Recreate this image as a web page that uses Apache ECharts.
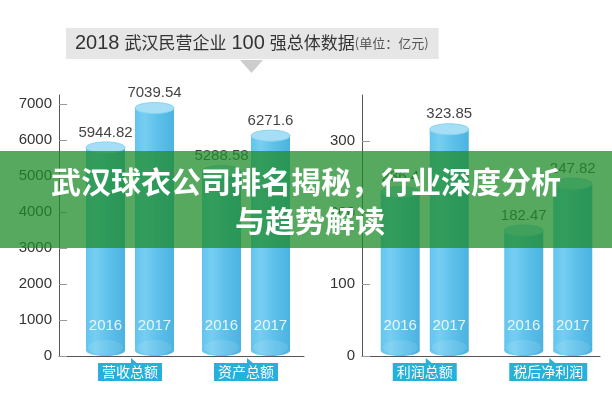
<!DOCTYPE html>
<html>
<head>
<meta charset="utf-8">
<script src="https://cdn.jsdelivr.net/npm/echarts@6/dist/echarts.min.js"></script>
<style>html,body{margin:0;padding:0;background:#fff;}#c{width:612px;height:400px;}</style>
</head>
<body>
<div id="c"></div>
<script>
// ---- data ----
const titleMain = ['2018', '武汉民营企业', '100', '强总体数据'];
const titleUnit = '(单位：亿元)';
const bannerLines = ['武汉球衣公司排名揭秘，行业深度分析', '与趋势解读'];
const years = ['2016', '2017'];
const leftCategories = ['营收总额', '资产总额'];
const left2016 = [5944.82, 5288.58];
const left2017 = [7039.54, 6271.6];
const rightCategories = ['利润总额', '税后净利润'];
const right2016 = [236.4, 182.47];
const right2017 = [323.85, 247.82];
const leftTicks = [0, 1000, 2000, 3000, 4000, 5000, 6000, 7000];
const rightTicks = [0, 100, 200, 300];
const leftMax = 7250;
const rightMax = 364;

// ---- rendering ----
const chart = echarts.init(document.getElementById('c'), null, {renderer: 'canvas'});
const LATIN = '"Liberation Sans", Arial, "Noto Sans CJK SC", sans-serif';
const CJK = '"Noto Sans CJK SC", sans-serif';

function bodyGrad() {
  return new echarts.graphic.LinearGradient(0, 0, 1, 0, [
    {offset: 0, color: '#62c5ee'},
    {offset: 0.25, color: '#76cef2'},
    {offset: 0.6, color: '#5cc0ea'},
    {offset: 1, color: '#4cb2e0'}
  ]);
}

function makeRender(side, yearLabel, drawTail) {
  return function (params, api) {
    const cat = api.value(0);
    const val = api.value(1);
    const base = api.coord([cat, 0]);
    const top = api.coord([cat, val]);
    const cx = base[0] + side * 24.5;
    const rx = 19.5, ry = 5.5;
    const by = base[1] - ry;
    const ty = top[1] + ry;
    const children = [
      {type: 'rect', shape: {x: cx - rx, y: ty, width: rx * 2, height: by - ty}, style: {fill: bodyGrad()}},
      {type: 'ellipse', shape: {cx: cx, cy: by, rx: rx, ry: ry}, style: {fill: bodyGrad()}},
      {type: 'ellipse', shape: {cx: cx, cy: by - 3, rx: rx - 2, ry: ry + 2}, style: {fill: 'rgba(255,255,255,0.10)'}},
      {type: 'ellipse', shape: {cx: cx, cy: ty, rx: rx, ry: ry}, style: {fill: '#a6dff5', stroke: '#86d3f1', lineWidth: 1}},
      {type: 'text', x: cx, y: top[1] - 2, style: {text: String(val), fill: '#444', font: '15px ' + LATIN, textAlign: 'center', textVerticalAlign: 'bottom'}},
      {type: 'text', x: cx, y: base[1] - 30, style: {text: yearLabel, fill: 'rgba(255,255,255,0.85)', font: '15px ' + LATIN, textAlign: 'center', textVerticalAlign: 'middle'}}
    ];
    if (drawTail) {
      children.push({type: 'polygon', shape: {points: [[base[0] + 1, base[1] + 2], [base[0] + 1, base[1] + 8], [base[0] + 8, base[1] + 8]]}, style: {fill: '#26b0dc'}});
    }
    return {type: 'group', children: children};
  };
}

function frameY(max, ticks, idx) {
  return {
    type: 'value', gridIndex: idx, min: 0, max: max,
    axisLine: {show: true, lineStyle: {color: '#555', width: 1}},
    axisTick: {show: true, inside: true, length: 8, lineStyle: {color: '#999'}, customValues: ticks},
    axisLabel: {show: true, margin: 7, color: '#333', fontSize: 15, fontFamily: LATIN, customValues: ticks,
      formatter: function (v) { return String(v); }},
    splitLine: {show: false}
  };
}
function hiddenY(max, idx) {
  return {type: 'value', gridIndex: idx, min: 0, max: max, show: false, splitLine: {show: false}};
}
function frameX(idx) {
  return {type: 'category', gridIndex: idx, data: ['', ''],
    axisLine: {show: true, lineStyle: {color: '#555', width: 1}},
    axisTick: {show: false}, axisLabel: {show: false}};
}
function barX(cats, idx) {
  return {type: 'category', gridIndex: idx, data: cats,
    axisLine: {show: false}, axisTick: {show: false},
    axisLabel: {show: true, margin: 7, color: '#fff', fontSize: 14, fontFamily: CJK,
      backgroundColor: '#26b0dc', padding: [1, 4, 1, 4], lineHeight: 16}};
}
function customSeries(vals, xi, yi, side, yearLabel, tail) {
  return {
    type: 'custom', xAxisIndex: xi, yAxisIndex: yi, clip: false,
    renderItem: makeRender(side, yearLabel, tail),
    encode: {x: 0, y: 1},
    data: vals.map((v, i) => [i, v]),
    z: 3
  };
}

const option = {
  backgroundColor: '#fff',
  animation: false,
  title: {
    left: 66, top: 27,
    backgroundColor: '#e6e6e6',
    padding: [5, 10, 6, 9],
    text: '{n|' + titleMain[0] + '} {c|' + titleMain[1] + '} {n|' + titleMain[2] + '} {c|' + titleMain[3] + '}{s|' + titleUnit + '}',
    textStyle: {
      fontWeight: 'normal',
      rich: {
        n: {fontSize: 20, fontFamily: LATIN, fontWeight: 'normal', color: '#333', lineHeight: 22},
        c: {fontSize: 17, fontFamily: CJK, fontWeight: 'normal', color: '#333', lineHeight: 22},
        s: {fontSize: 13, fontFamily: CJK, fontWeight: 'normal', color: '#555', lineHeight: 22}
      }
    }
  },
  grid: [
    {left: 59, top: 95, width: 245, height: 261},
    {left: 72, top: 95, width: 232, height: 261},
    {left: 362, top: 95, width: 238, height: 261},
    {left: 363, top: 95, width: 247, height: 261}
  ],
  xAxis: [frameX(0), barX(leftCategories, 1), frameX(2), barX(rightCategories, 3)],
  yAxis: [frameY(leftMax, leftTicks, 0), hiddenY(leftMax, 1), frameY(rightMax, rightTicks, 2), hiddenY(rightMax, 3)],
  series: [
    customSeries(left2016, 1, 1, -1, years[0], true),
    customSeries(left2017, 1, 1, 1, years[1], false),
    customSeries(right2016, 3, 3, -1, years[0], true),
    customSeries(right2017, 3, 3, 1, years[1], false)
  ],
  graphic: [
    {type: 'polygon', z: 5, shape: {points: [[240, 60], [263, 60], [251.5, 73]]}, style: {fill: '#cdcdcd'}},
    {type: 'rect', z: 100, shape: {x: 0, y: 151, width: 612, height: 97}, style: {fill: 'rgba(30,140,42,0.75)'}},
    {type: 'text', z: 101, x: 306, y: 182, style: {text: bannerLines[0], fill: '#fff', font: 'bold 30px ' + CJK, textAlign: 'center', textVerticalAlign: 'middle'}},
    {type: 'text', z: 101, x: 310, y: 221, style: {text: bannerLines[1], fill: '#fff', font: 'bold 30px ' + CJK, textAlign: 'center', textVerticalAlign: 'middle'}}
  ]
};
chart.setOption(option);
</script>
</body>
</html>
